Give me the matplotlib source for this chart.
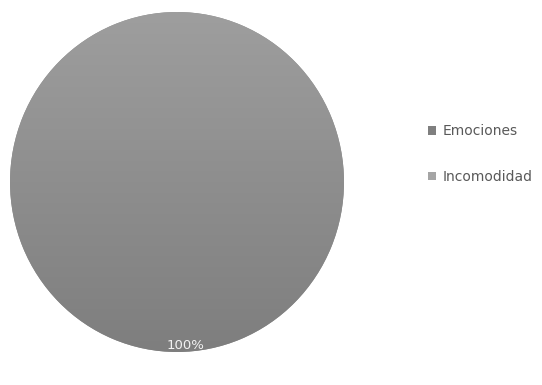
import matplotlib
matplotlib.use('Agg')
import matplotlib.pyplot as plt
import numpy as np
from matplotlib.patches import Patch

categorias = ['Emociones', 'Incomodidad']
valores = [0, 100]
etiquetas = ['', '100%']

fig = plt.figure(figsize=(5.42, 3.85), dpi=100)
ax = fig.add_axes([10 / 542, 1 - 352 / 385, 334 / 542, 340 / 385])

wedges, _ = ax.pie(valores, colors=['#7f7f7f', '#8f8f8f'], startangle=90,
                   counterclock=False, radius=1.0)
ax.set_xlim(-1, 1)
ax.set_ylim(-1, 1)
ax.set_aspect('auto')

# degradado vertical dentro de la porcion
grad = np.linspace(0, 1, 256).reshape(-1, 1)
cmap = matplotlib.colors.LinearSegmentedColormap.from_list('g', ['#9e9e9e', '#7e7e7e'])
for w in wedges:
    if w.theta2 - w.theta1 > 0:
        im = ax.imshow(grad, cmap=cmap, extent=[-1, 1, -1, 1], origin='upper',
                       aspect='auto', zorder=1)
        im.set_clip_path(w)

ax.text(0.05, -0.96, etiquetas[1], ha='center', va='center', color='#f2f2f2',
        fontsize=9.5, zorder=3)
ax.axis('off')

handles = [Patch(facecolor='#7f7f7f', label=categorias[0]),
           Patch(facecolor='#a5a5a5', label=categorias[1])]
fig.legend(handles=handles, loc='center left', bbox_to_anchor=(415 / 542, 1 - 154 / 385),
           frameon=False, fontsize=10, labelcolor='#595959', handlelength=0.6,
           handleheight=0.6, handletextpad=0.5, labelspacing=2.3)

plt.savefig('out.png', dpi=100)
